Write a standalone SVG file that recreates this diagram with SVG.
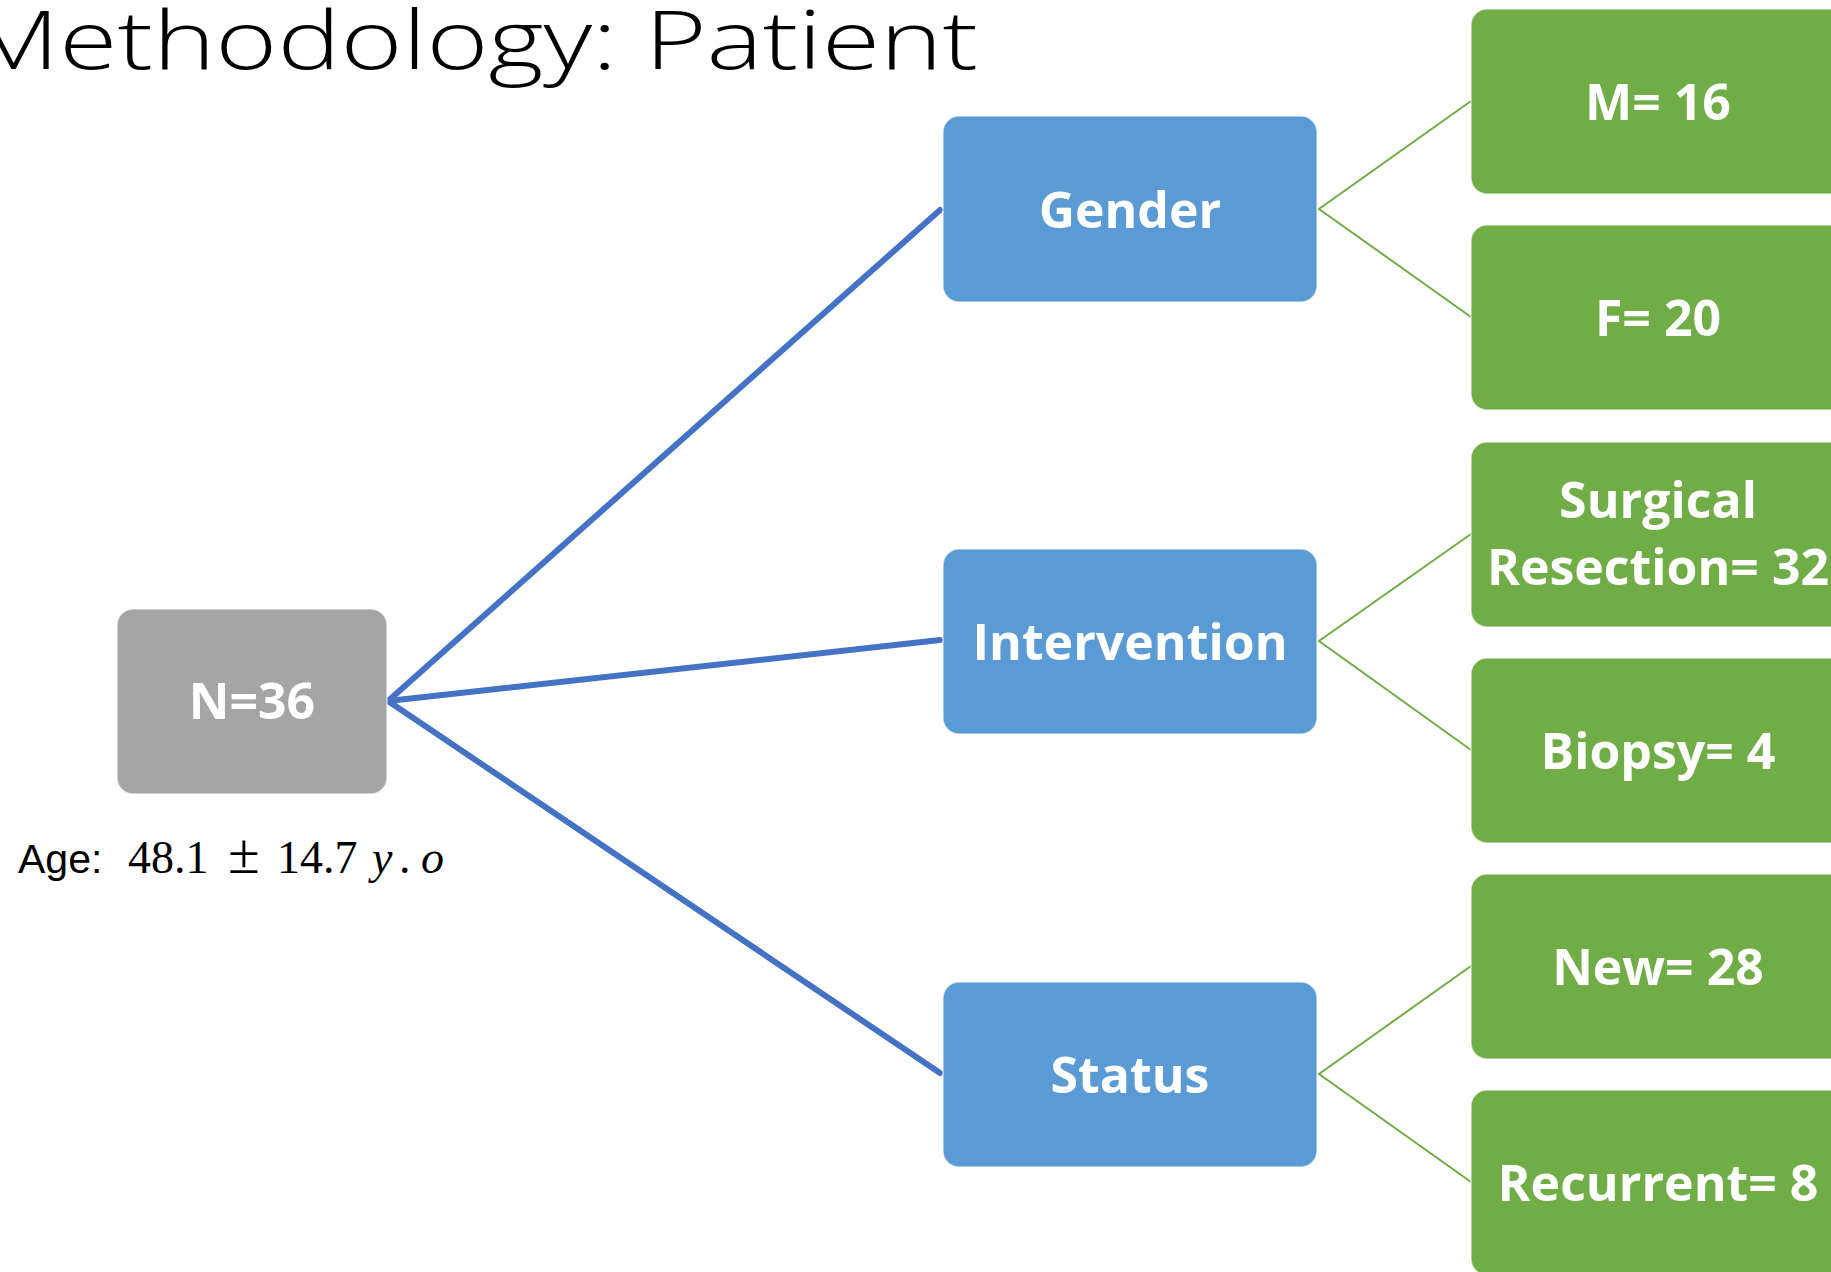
<svg xmlns="http://www.w3.org/2000/svg" width="1831" height="1272" viewBox="0 0 1831 1272">
<style>
.box{stroke:#ffffff;stroke-opacity:0.6;stroke-width:1.5}
.gray{fill:#A5A5A5}
.blue{fill:#5B9BD5}
.green{fill:#70AD47}
.lbl{font-family:"Open Sans","Noto Sans","Liberation Sans",sans-serif;font-weight:700;font-size:50px;fill:#ffffff;text-anchor:middle}
.main{stroke:#4472C4;stroke-width:6;fill:none;stroke-linecap:round}
.sub{stroke:#70AD47;stroke-width:2;fill:none}
.math{font-family:"Liberation Serif","DejaVu Serif",serif;font-size:46px}
</style>
<rect width="1831" height="1272" fill="#ffffff"/>
<text x="-32" y="69" font-family="'Open Sans','Noto Sans','Liberation Sans',sans-serif" font-weight="300" font-size="82" fill="#000000" textLength="1010" lengthAdjust="spacingAndGlyphs">Methodology: Patient</text>
<g id="connectors">
<line class="main" x1="388" y1="701" x2="940" y2="210"/>
<line class="main" x1="388" y1="701" x2="940" y2="640"/>
<line class="main" x1="388" y1="701" x2="940" y2="1073"/>
<polyline class="sub" points="1471,101 1319,209 1471,317"/>
<polyline class="sub" points="1471,534 1319,641 1471,750"/>
<polyline class="sub" points="1471,966 1319,1074 1471,1182"/>
</g>
<g id="node-n36">
<rect class="box gray" x="117" y="609" width="270" height="185" rx="16"/>
<text class="lbl" x="252" y="719">N=36</text>
</g>
<g id="age-label">
<text y="873" fill="#000000"><tspan x="18" font-family="'Liberation Sans','Open Sans',sans-serif" font-size="41">Age:</tspan><tspan class="math" x="128">48.1</tspan><tspan class="math" x="228" style="font-size:58px">±</tspan><tspan class="math" x="277">14.7</tspan><tspan class="math" x="372" font-style="italic">y</tspan><tspan class="math" x="399">.</tspan><tspan class="math" x="421" font-style="italic">o</tspan></text>
</g>
<g id="node-gender">
<rect class="box blue" x="943" y="116" width="374" height="186" rx="16"/>
<text class="lbl" x="1130" y="228">Gender</text>
</g>
<g id="node-intervention">
<rect class="box blue" x="943" y="549" width="374" height="185" rx="16"/>
<text class="lbl" x="1130" y="660">Intervention</text>
</g>
<g id="node-status">
<rect class="box blue" x="943" y="982" width="374" height="185" rx="16"/>
<text class="lbl" x="1130" y="1093">Status</text>
</g>
<g id="node-m16">
<rect class="box green" x="1471" y="9" width="374" height="185" rx="16"/>
<text class="lbl" x="1658" y="120">M= 16</text>
</g>
<g id="node-f20">
<rect class="box green" x="1471" y="225" width="374" height="185" rx="16"/>
<text class="lbl" x="1658" y="336">F= 20</text>
</g>
<g id="node-surgical">
<rect class="box green" x="1471" y="442" width="374" height="185" rx="16"/>
<text class="lbl" x="1658" y="518">Surgical</text>
<text class="lbl" x="1658" y="585">Resection= 32</text>
</g>
<g id="node-biopsy">
<rect class="box green" x="1471" y="658" width="374" height="185" rx="16"/>
<text class="lbl" x="1658" y="769">Biopsy= 4</text>
</g>
<g id="node-new">
<rect class="box green" x="1471" y="874" width="374" height="185" rx="16"/>
<text class="lbl" x="1658" y="985">New= 28</text>
</g>
<g id="node-recurrent">
<rect class="box green" x="1471" y="1090" width="374" height="185" rx="16"/>
<text class="lbl" x="1658" y="1201">Recurrent= 8</text>
</g>
</svg>
